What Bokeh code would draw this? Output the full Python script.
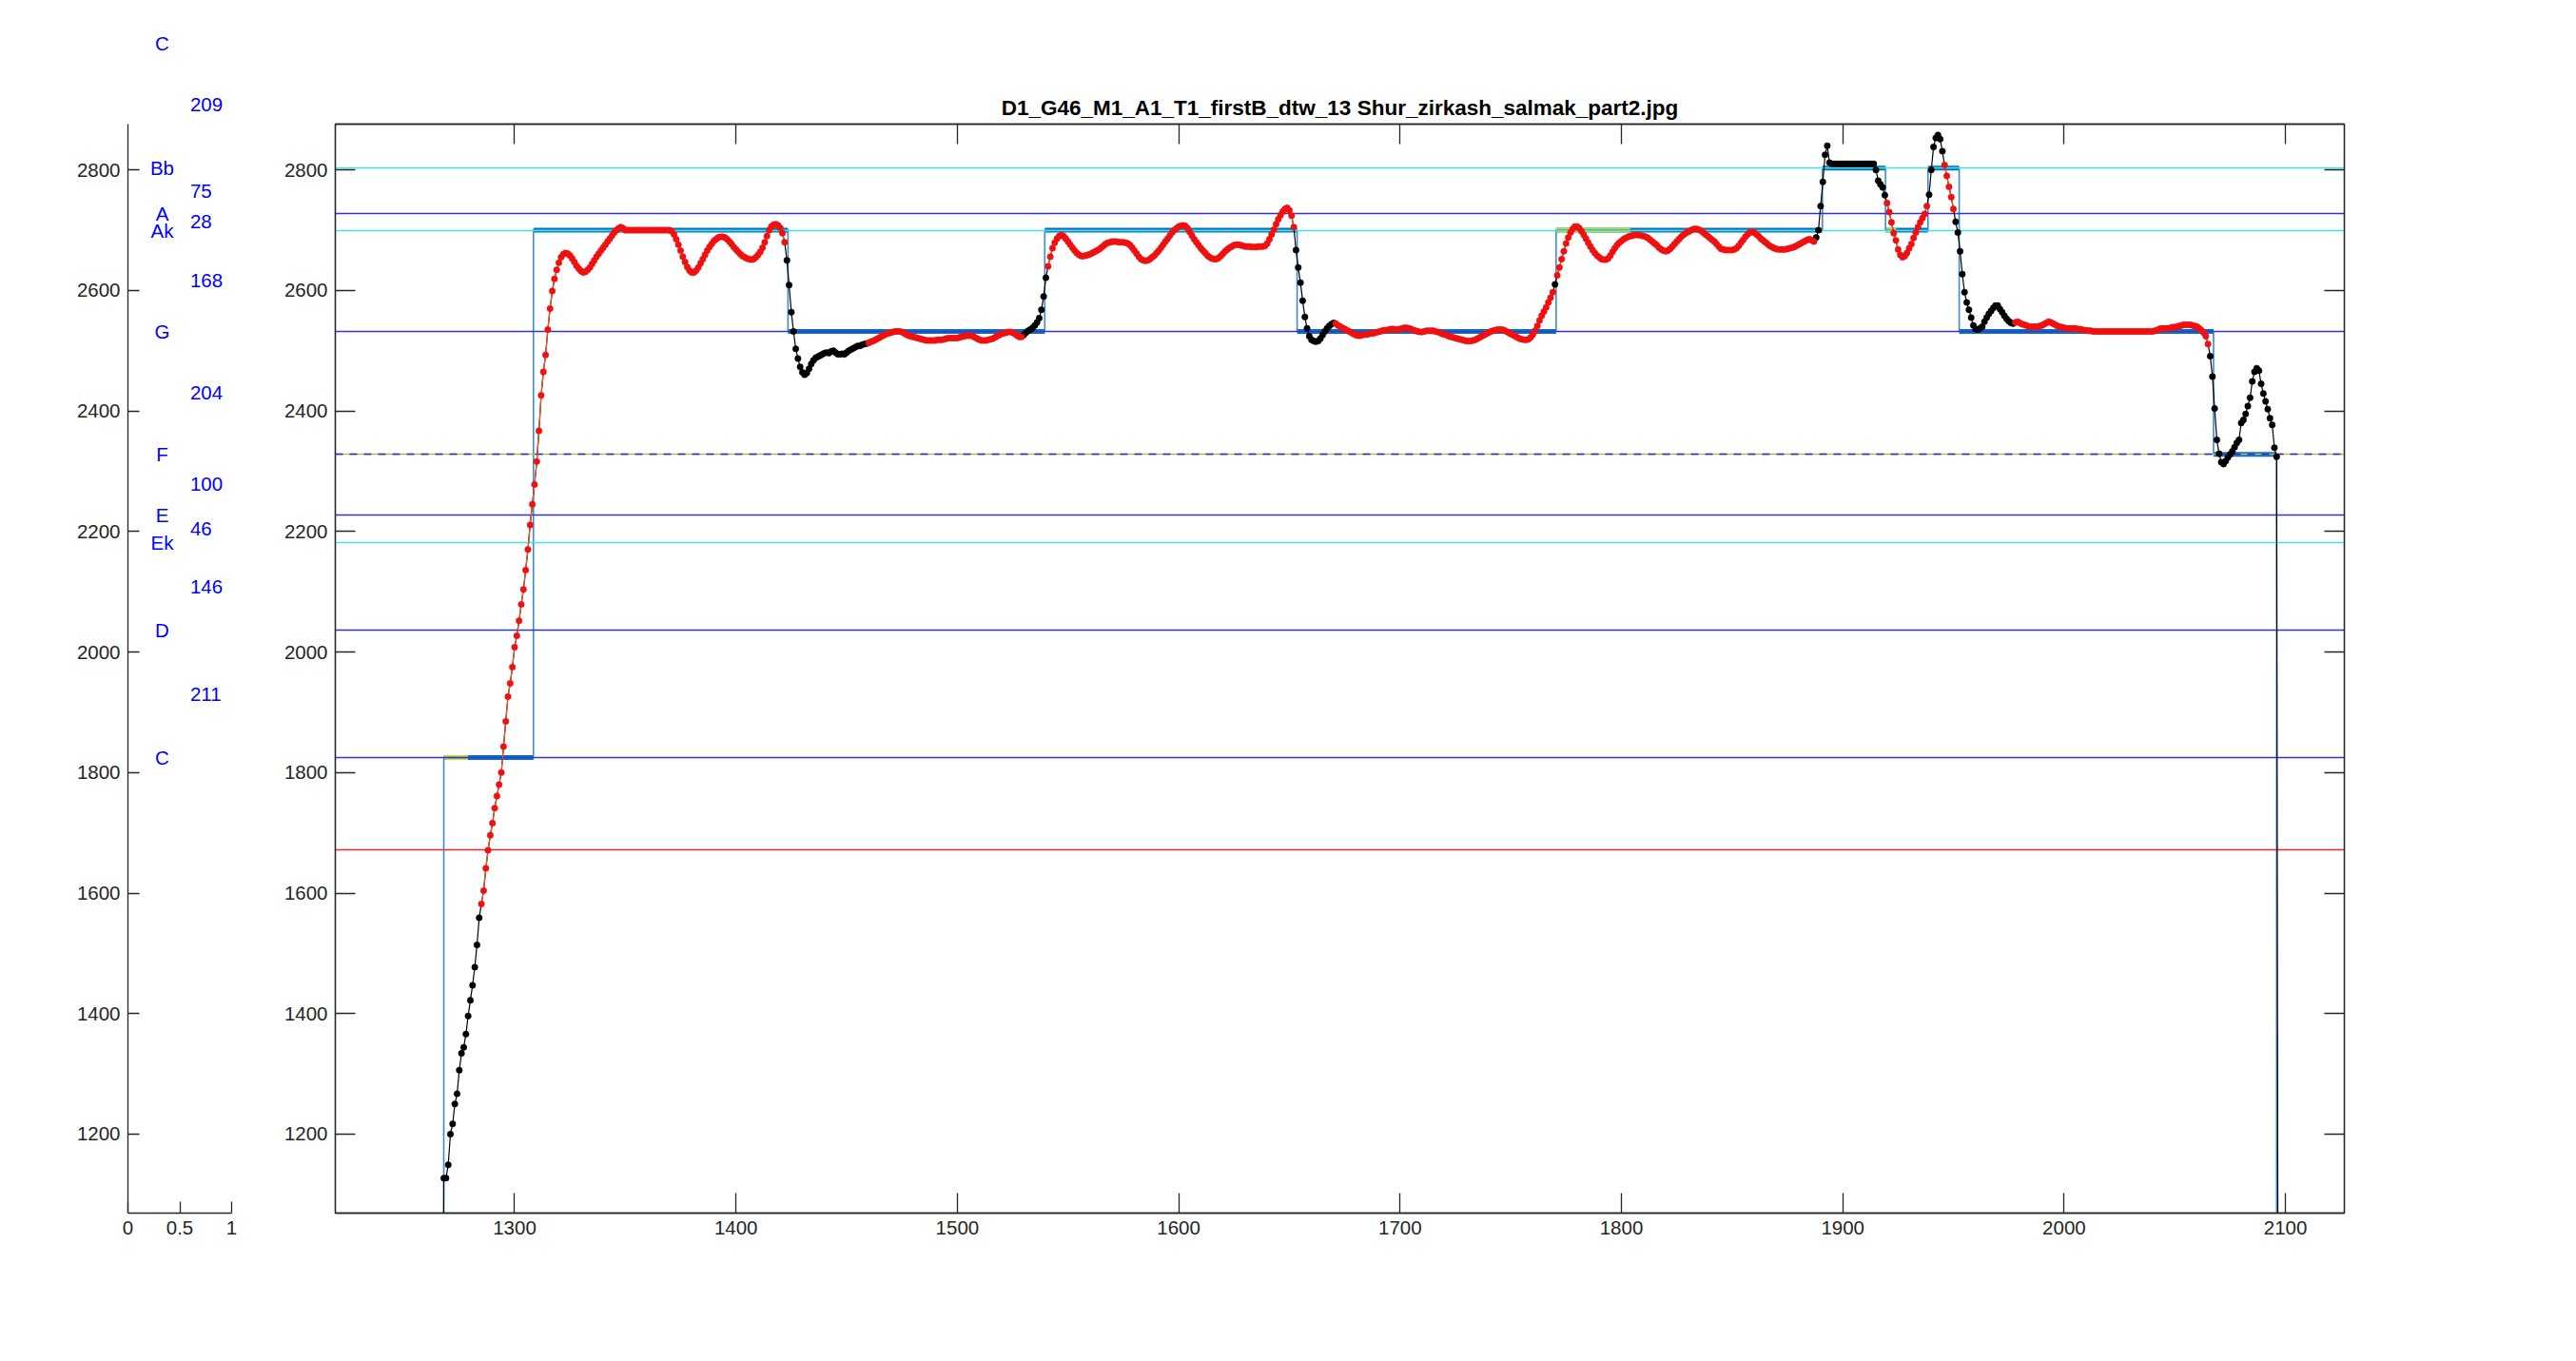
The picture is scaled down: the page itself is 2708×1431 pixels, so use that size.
import numpy as np
from bokeh.plotting import figure
from bokeh.models import Range1d, LinearAxis, FixedTicker, Label, Title
from bokeh.layouts import row
from bokeh.embed import file_html
from bokeh.resources import INLINE

# ---------------- data ----------------
title_text = "D1_G46_M1_A1_T1_firstB_dtw_13 Shur_zirkash_salmak_part2.jpg"

note_names = ["C", "D", "Ek", "E", "F", "G", "Ak", "A", "Bb", "C"]
note_cents = [1825, 2036, 2182, 2228, 2328, 2532, 2700, 2728, 2803, 3012]
note_line_kind = ["blue", "blue", "cyan", "blue", "dash", "blue", "cyan", "blue", "cyan", "none"]
extra_red_line = [1672]

x_ticks = [1300, 1400, 1500, 1600, 1700, 1800, 1900, 2000, 2100]
y_ticks = [1200, 1400, 1600, 1800, 2000, 2200, 2400, 2600, 2800]
small_x_ticks = [0, 0.5, 1]
small_x_labels = ["0", "0.5", "1"]

x_limits = [1219, 2126.6]
y_limits = [1069, 2876]

# pitch track (cents), one value per frame starting at frame 1267; 0 = unvoiced
pitch_start = 1267
pitch_cents = [
    0,
    1127, 1127, 1149, 1200, 1217, 1250, 1267, 1306, 1334, 1344,
    1366, 1396, 1422, 1447, 1477, 1514, 1559, 1582, 1604, 1641,
    1671, 1696, 1716, 1741, 1761, 1780, 1800, 1843, 1885, 1926,
    1948, 1975, 2008, 2027, 2052, 2079, 2104, 2136, 2170, 2211,
    2245, 2278, 2316, 2367, 2426, 2465, 2493, 2535, 2570, 2599,
    2619, 2634, 2646, 2655, 2660, 2662, 2661, 2658, 2653, 2647,
    2641, 2636, 2632, 2630, 2631, 2634, 2638, 2644, 2650, 2656,
    2661, 2666, 2671, 2676, 2681, 2686, 2691, 2696, 2700, 2703,
    2705, 2703, 2700, 2700, 2700, 2700, 2700, 2700, 2700, 2700,
    2700, 2700, 2700, 2700, 2700, 2700, 2700, 2700, 2700, 2700,
    2700, 2700, 2700, 2698, 2693, 2685, 2676, 2666, 2656, 2647,
    2639, 2633, 2630, 2630, 2633, 2638, 2645, 2652, 2659, 2666,
    2672, 2677, 2682, 2685, 2688, 2689, 2689, 2688, 2685, 2681,
    2677, 2672, 2668, 2664, 2660, 2657, 2655, 2653, 2652, 2651,
    2652, 2655, 2659, 2664, 2671, 2680, 2690, 2700, 2706, 2709,
    2710, 2708, 2704, 2695, 2680, 2650, 2609, 2564, 2532, 2503,
    2487, 2473, 2464, 2460, 2463, 2470, 2478, 2484, 2488, 2490,
    2492, 2494, 2496, 2497, 2496, 2499, 2500, 2497, 2494, 2494,
    2495, 2494, 2497, 2500, 2502, 2504, 2506, 2508, 2508, 2510,
    2511, 2512, 2513, 2515, 2516, 2518, 2520, 2522, 2524, 2526,
    2528, 2529, 2530, 2531, 2532, 2532, 2532, 2531, 2529, 2527,
    2525, 2524, 2523, 2522, 2521, 2520, 2519, 2518, 2517, 2517,
    2517, 2517, 2517, 2518, 2518, 2518, 2519, 2520, 2521, 2521,
    2521, 2521, 2521, 2522, 2523, 2524, 2525, 2525, 2525, 2524,
    2522, 2520, 2518, 2517, 2517, 2517, 2518, 2519, 2520, 2522,
    2524, 2526, 2528, 2529, 2530, 2531, 2531, 2530, 2528, 2525,
    2523, 2523, 2526, 2530, 2533, 2535, 2538, 2542, 2547, 2554,
    2568, 2590, 2621, 2640, 2656, 2670, 2679, 2686, 2690, 2692,
    2690, 2686, 2681, 2676, 2671, 2666, 2662, 2659, 2657, 2657,
    2658, 2659, 2660, 2662, 2664, 2666, 2668, 2671, 2674, 2677,
    2679, 2680, 2681, 2681, 2681, 2680, 2680, 2680, 2679, 2678,
    2675, 2671, 2666, 2661, 2656, 2652, 2650, 2649, 2650, 2652,
    2655, 2658, 2662, 2666, 2671, 2676, 2681, 2686, 2691, 2696,
    2700, 2703, 2706, 2707, 2708, 2707, 2703, 2697, 2691, 2685,
    2680, 2675, 2670, 2666, 2662, 2658, 2655, 2653, 2652, 2652,
    2654, 2657, 2661, 2665, 2668, 2671, 2673, 2675, 2676, 2676,
    2675, 2674, 2673, 2673, 2673, 2672, 2672, 2672, 2673, 2673,
    2673, 2674, 2678, 2685, 2693, 2701, 2710, 2718, 2725, 2731,
    2735, 2737, 2733, 2724, 2705, 2667, 2638, 2613, 2583, 2556,
    2537, 2524, 2518, 2516, 2515, 2516, 2520, 2526, 2532, 2537,
    2541, 2544, 2546, 2545, 2542, 2540, 2538, 2536, 2534, 2532,
    2530, 2528, 2526, 2525, 2525, 2526, 2527, 2527, 2528, 2529,
    2529, 2530, 2531, 2532, 2533, 2534, 2534, 2535, 2536, 2536,
    2535, 2535, 2536, 2537, 2538, 2538, 2537, 2536, 2534, 2533,
    2532, 2531, 2531, 2532, 2533, 2533, 2533, 2533, 2532, 2531,
    2530, 2528, 2527, 2526, 2524, 2523, 2522, 2521, 2520, 2519,
    2518, 2517, 2516, 2516, 2516, 2517, 2518, 2520, 2522, 2524,
    2526, 2528, 2530, 2532, 2533, 2534, 2535, 2535, 2535, 2534,
    2532, 2530, 2528, 2526, 2524, 2522, 2520, 2519, 2518, 2518,
    2519, 2522, 2527, 2533, 2541, 2550, 2558, 2565, 2572, 2580,
    2588, 2597, 2610, 2625, 2638, 2652, 2665, 2678, 2688, 2696,
    2702, 2706, 2706, 2703, 2698, 2692, 2686, 2679, 2673, 2667,
    2662, 2658, 2655, 2652, 2651, 2651, 2653, 2658, 2664, 2670,
    2675, 2679, 2682, 2685, 2687, 2689, 2690, 2691, 2692, 2692,
    2692, 2691, 2690, 2689, 2687, 2684, 2681, 2678, 2675, 2671,
    2668, 2666, 2665, 2666, 2669, 2673, 2677, 2681, 2685, 2689,
    2692, 2695, 2697, 2699, 2701, 2702, 2702, 2701, 2699, 2696,
    2693, 2690, 2687, 2684, 2681, 2677, 2673, 2669, 2668, 2667,
    2667, 2667, 2667, 2668, 2670, 2674, 2679, 2684, 2689, 2693,
    2696, 2697, 2696, 2693, 2690, 2686, 2683, 2680, 2677, 2674,
    2672, 2670, 2669, 2668, 2668, 2668, 2668, 2669, 2670, 2671,
    2672, 2674, 2676, 2678, 2680, 2682, 2684, 2685, 2683, 2681,
    2688, 2700, 2740, 2780, 2825, 2840, 2812, 2810, 2810, 2810,
    2810, 2810, 2810, 2810, 2810, 2810, 2810, 2810, 2810, 2810,
    2810, 2810, 2810, 2810, 2810, 2810, 2810, 2800, 2782, 2776,
    2771, 2758, 2745, 2730, 2713, 2695, 2683, 2668, 2659, 2655,
    2657, 2662, 2670, 2677, 2687, 2696, 2705, 2713, 2720, 2727,
    2740, 2759, 2800, 2838, 2853, 2858, 2851, 2831, 2808, 2790,
    2772, 2755, 2735, 2714, 2696, 2665, 2627, 2597, 2580, 2568,
    2555, 2542, 2536, 2535, 2537, 2540, 2548, 2555, 2561, 2566,
    2571, 2575, 2575, 2569, 2564, 2558, 2553, 2549, 2546, 2545,
    2547, 2548, 2546, 2544, 2543, 2542, 2540, 2540, 2540, 2540,
    2540, 2541, 2542, 2544, 2546, 2548, 2547, 2545, 2543, 2541,
    2540, 2539, 2538, 2537, 2537, 2537, 2537, 2537, 2536, 2536,
    2535, 2534, 2534, 2533, 2533, 2532, 2532, 2532, 2532, 2532,
    2532, 2532, 2532, 2532, 2532, 2532, 2532, 2532, 2532, 2532,
    2532, 2532, 2532, 2532, 2532, 2532, 2532, 2532, 2532, 2532,
    2532, 2532, 2532, 2533, 2534, 2536, 2537, 2537, 2537, 2537,
    2538, 2539, 2539, 2540, 2541, 2542, 2543, 2543, 2543, 2543,
    2542, 2541, 2540, 2537, 2534, 2530, 2524, 2511, 2491, 2457,
    2404, 2352, 2329, 2315, 2312, 2317, 2323, 2328, 2333, 2340,
    2347, 2352, 2380, 2385, 2395, 2408, 2422, 2449, 2465, 2471,
    2467, 2445, 2429, 2416, 2403, 2388, 2377, 2339, 2324,
    0,
]

# frames drawn in red (inclusive ranges); all other voiced frames are black
red_from = [1285, 1460, 1541, 1671, 1771, 1920, 1946, 1978]
red_to = [1422, 1529, 1652, 1769, 1887, 1938, 1950, 2065]

# note segmentation
seg_start = [1268, 1308.5, 1423.5, 1539.5, 1653.5, 1770.5, 1890.8, 1919.3, 1938.5, 1952.6, 2067.5]
seg_end = [1308.5, 1423.5, 1539.5, 1653.5, 1770.5, 1890.8, 1919.3, 1938.5, 1952.6, 2067.5, 2096]
seg_note = ["C", "Ak", "G", "Ak", "G", "Ak", "Bb", "Ak", "Bb", "G", "F"]

yellow_start = [1268, 1770.5, 1919.3]
yellow_end = [1279, 1804, 1924.2]
yellow_note = ["C", "Ak", "Ak"]

# ---------------- styles / layout ----------------
FONT = "Liberation Sans"
AX_COL = "#262626"
TICK_FS = "20.5px"
LABEL_FS = 20.5
BLUE_LINE = "#3434CC"
CYAN_LINE = "#3FE3E3"
BAR_COL = "#0072BD"
YEL_COL = "#C6DC38"
STEP_COL = "#3B8BD0"

TOP_BORDER = 130
FRAME_H = 1145
BOTTOM_BORDER = 151
TOTAL_H = TOP_BORDER + FRAME_H + BOTTOM_BORDER
SMALL_W = 273
SMALL_FRAME_W = 109

# approximate advance widths (em) of the glyphs used in note names
CHAR_EM = {"C": 0.722, "D": 0.722, "E": 0.667, "F": 0.611, "G": 0.778, "A": 0.667,
           "B": 0.667, "b": 0.556, "k": 0.5}

level = {n: c for n, c in zip(note_names[:-1], note_cents[:-1])}

def style_axis(ax, ticks, tick_len, show_labels=True):
    ax.ticker = FixedTicker(ticks=ticks)
    ax.major_tick_in = tick_len
    ax.major_tick_out = 0
    ax.minor_tick_line_color = None
    ax.axis_line_color = AX_COL
    ax.axis_line_width = 1.3
    ax.major_tick_line_color = AX_COL
    ax.major_tick_line_width = 1.3
    ax.major_label_text_font = FONT
    if show_labels:
        ax.major_label_text_color = AX_COL
        ax.major_label_text_font_size = TICK_FS
        ax.major_label_standoff = 8
    else:
        ax.major_label_text_color = None
        ax.major_label_text_font_size = "1px"
        ax.major_label_standoff = 0

# ---------------- main figure ----------------
p = figure(width=2708 - SMALL_W, height=TOTAL_H, output_backend="svg", toolbar_location=None,
           x_range=Range1d(*x_limits), y_range=Range1d(*y_limits),
           min_border_left=79, min_border_right=244, min_border_top=TOP_BORDER,
           min_border_bottom=BOTTOM_BORDER, frame_width=2112, frame_height=FRAME_H)
p.background_fill_color = "white"
p.border_fill_color = "white"
p.outline_line_color = AX_COL
p.outline_line_width = 1.3
p.grid.visible = False

p.title.text = title_text
p.title.text_font = FONT
p.title.text_font_size = "22.5px"
p.title.text_font_style = "bold"
p.title.align = "center"
p.title.text_color = "black"

style_axis(p.xaxis[0], x_ticks, 21)
style_axis(p.yaxis[0], y_ticks, 21)
top_ax = LinearAxis()
style_axis(top_ax, x_ticks, 21, show_labels=False)
p.add_layout(top_ax, "above")
right_ax = LinearAxis()
style_axis(right_ax, y_ticks, 21, show_labels=False)
p.add_layout(right_ax, "right")

# thick note bars
bar_lvl = [level[n] for n in seg_note]
p.segment(x0=seg_start, x1=seg_end, y0=bar_lvl, y1=bar_lvl, line_color=BAR_COL, line_width=5)
y_lvl = [level[n] for n in yellow_note]
p.segment(x0=yellow_start, x1=yellow_end, y0=y_lvl, y1=y_lvl, line_color=YEL_COL, line_width=5)

# step line of the segmentation
sx, sy = [seg_start[0]], [0]
for s, e, n in zip(seg_start, seg_end, seg_note):
    sx += [s, e]
    sy += [level[n], level[n]]
sx.append(seg_end[-1])
sy.append(0)
p.line(sx, sy, line_color=STEP_COL, line_width=1.6)

# reference note lines
blue_vals = [c for c, k in zip(note_cents, note_line_kind) if k == "blue"]
cyan_vals = [c for c, k in zip(note_cents, note_line_kind) if k == "cyan"]
dash_vals = [c for c, k in zip(note_cents, note_line_kind) if k == "dash"]
p.hspan(y=blue_vals, line_color=BLUE_LINE, line_width=1.5)
p.hspan(y=cyan_vals, line_color=CYAN_LINE, line_width=1.6)
p.hspan(y=dash_vals, line_color="#BDB648", line_width=1.6)
p.hspan(y=dash_vals, line_color="#2626E0", line_width=1.6, line_dash="8 7")
p.hspan(y=extra_red_line, line_color="#EE2A2A", line_width=1.4)

# pitch curve
px = np.arange(pitch_start, pitch_start + len(pitch_cents))
pv = np.array(pitch_cents, dtype=float)
is_red = np.zeros(len(px), dtype=bool)
for a, b in zip(red_from, red_to):
    is_red |= (px >= a) & (px <= b)
voiced = pv > 0
red_curve = np.where(is_red, pv, np.nan)

p.line(px, pv, line_color="black", line_width=1.2)
p.line(px, red_curve, line_color="#F2552C", line_width=1.3)
bmask = voiced & ~is_red
p.scatter(px[bmask], pv[bmask], size=6.5, fill_color="black", line_color="black", line_width=0.5)
p.scatter(px[is_red], pv[is_red], size=6.5, fill_color="#F01010", line_color="#F01010", line_width=0.5)

# ---------------- small note figure ----------------
q = figure(width=SMALL_W, height=TOTAL_H, output_backend="svg", toolbar_location=None, title=None,
           x_range=Range1d(0, 1), y_range=Range1d(*y_limits),
           min_border_left=134, min_border_right=30, min_border_top=TOP_BORDER,
           min_border_bottom=BOTTOM_BORDER, frame_width=SMALL_FRAME_W, frame_height=FRAME_H)
q.background_fill_color = "white"
q.border_fill_color = "white"
q.outline_line_color = None
q.grid.visible = False
style_axis(q.xaxis[0], small_x_ticks, 12)
q.xaxis[0].major_label_overrides = {t: l for t, l in zip(small_x_ticks, small_x_labels)}
style_axis(q.yaxis[0], y_ticks, 12)

NAME_X, STEP_X = 0.33, 0.6
name_items = [(name, cents, NAME_X, "center") for name, cents in zip(note_names, note_cents)]
step_items = [(str(b - a), (a + b) / 2, STEP_X, "left")
              for a, b in zip(note_cents[:-1], note_cents[1:])]

inside = [it for it in name_items + step_items if it[1] <= y_limits[1]]
outside = sorted([it for it in name_items + step_items if it[1] > y_limits[1]], key=lambda it: it[1])

for text, cents, xpos, align in inside:
    q.add_layout(Label(x=xpos, y=cents, x_units="data", y_units="data", text=text,
                       text_align=align, text_baseline="middle", text_color="#0000FF",
                       text_font=FONT, text_font_size=f"{LABEL_FS}px"))

# labels above the top of the axes (two of them): stacked title panels in the border.
px_per_unit = FRAME_H / (y_limits[1] - y_limits[0])
PANEL_TEXT_H = 20.3      # height a title panel reserves besides its standoff
CENTRE_ABOVE = 7.5       # visual centre of the text above its anchor line
budget = TOP_BORDER - 3  # keep the panels inside the top border
want = [(cents - y_limits[1]) * px_per_unit for _, cents, _, _ in outside]
best_s1, best_err = 0.0, 1e9
for s1 in np.arange(0.0, 80.0, 0.1):
    s2 = budget - 2 * PANEL_TEXT_H - s1
    if s2 < 0:
        break
    c1 = s1 / 2 + CENTRE_ABOVE
    c2 = PANEL_TEXT_H + s1 + s2 / 2 + CENTRE_ABOVE
    err = max(abs(c1 - want[0]), abs(c2 - want[1]))
    if err < best_err:
        best_s1, best_err = s1, err
standoffs = [best_s1, budget - 2 * PANEL_TEXT_H - best_s1]

for (text, cents, xpos, align), standoff in zip(outside, standoffs):
    if align == "left":
        offset = xpos * SMALL_FRAME_W
    else:
        width = sum(CHAR_EM.get(ch, 0.556) for ch in text) * LABEL_FS
        offset = xpos * SMALL_FRAME_W - width / 2
    q.add_layout(Title(text=text, align="left", offset=offset, standoff=standoff,
                       text_font=FONT, text_font_size=f"{LABEL_FS}px", text_font_style="normal",
                       text_color="#0000FF"), "above")

layout = row(q, p, spacing=0)
open("out.html", "w").write(file_html(layout, INLINE))
